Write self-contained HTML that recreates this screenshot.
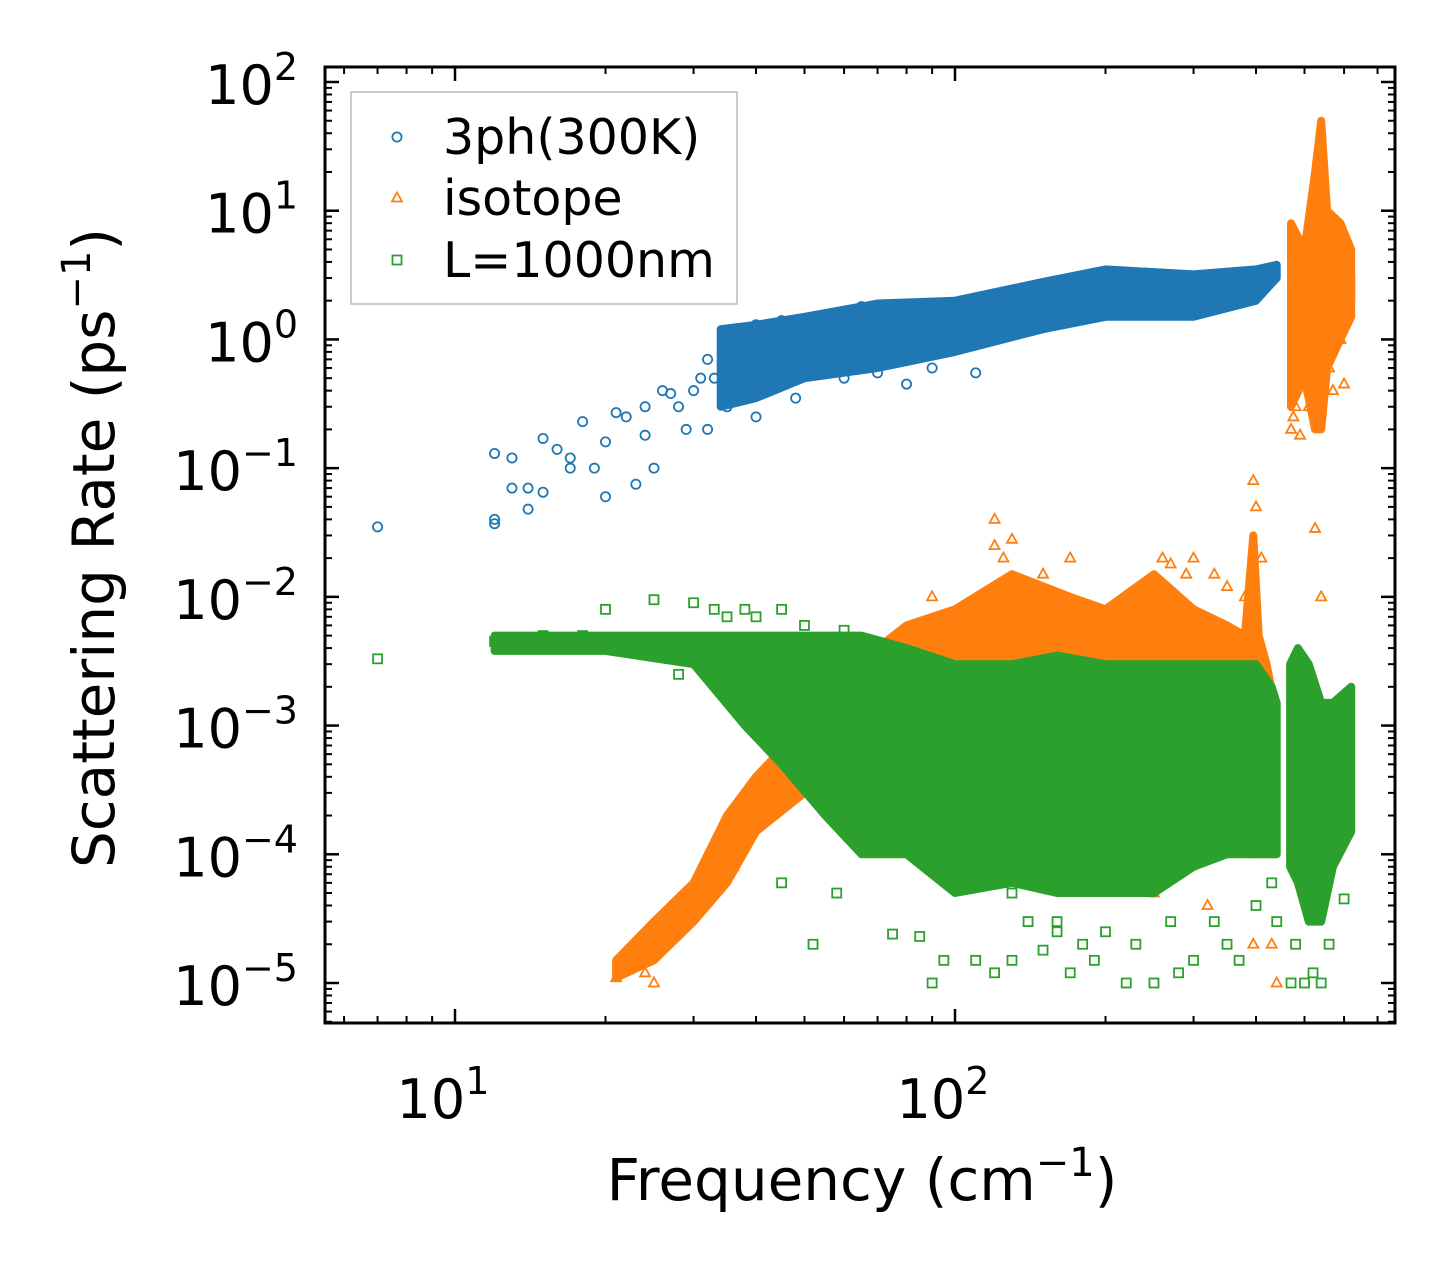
<!DOCTYPE html>
<html><head><meta charset="utf-8"><style>
html,body{margin:0;padding:0;background:#fff;}
svg text{font-family:"DejaVu Sans","Liberation Sans",sans-serif;fill:#000;}
</style></head><body>
<svg id="chart" width="1455" height="1273" xmlns="http://www.w3.org/2000/svg"></svg>
<script>
// ---- data (frequency cm^-1, rate ps^-1) ----
const blueFreq = [7,12,12,12,13,13,14,14,15,15,16,17,17,18,19,20,20,21,22,23,24,24,25,26,27,28,29,30,31,32,32,33,35,35,36,38,40,40,42,45,48,55,60,70,80,90,110,45,50,65,75,120];
const blueRate = [0.035,0.13,0.04,0.037,0.12,0.07,0.07,0.048,0.065,0.17,0.14,0.12,0.1,0.23,0.1,0.06,0.16,0.27,0.25,0.075,0.3,0.18,0.1,0.4,0.38,0.3,0.2,0.4,0.5,0.7,0.2,0.5,0.8,0.3,0.45,1.1,1.3,0.25,0.5,0.9,0.35,0.6,0.5,0.55,0.45,0.6,0.55,1.4,1.2,1.8,1.7,1.9];
const blueBandFreq = [34,40,50,70,100,150,200,300,400,440];
const blueBandLo = [0.3,0.35,0.5,0.6,0.8,1.2,1.5,1.5,2.0,3.0];
const blueBandHi = [1.2,1.3,1.5,1.9,2.0,2.8,3.5,3.2,3.5,3.8];
const blueBand2Freq = [470,510,560,620];
const blueBand2Lo = [1.5,1.5,1.8,2.0];
const blueBand2Hi = [4.0,4.0,3.5,3.0];

const orangeFreq = [21,24,25,34,36,120,120,125,130,150,170,260,270,290,300,330,350,380,395,400,410,430,440,470,475,480,490,510,560,570,600,590,525,395,320,250,90,540];
const orangeRate = [1.1e-5,1.2e-5,1.0e-5,6e-5,8e-5,0.04,0.025,0.02,0.028,0.015,0.02,0.02,0.018,0.015,0.02,0.015,0.012,0.01,0.08,0.05,0.02,2e-5,1e-5,0.2,0.25,0.3,0.18,0.3,0.6,0.4,0.45,1.0,0.034,2e-5,4e-5,5e-5,0.01,0.01];
const orangeBandFreq = [21,25,30,35,40,50,60,70,80,100,130,170,200,250,300,350,380,395,405,420,435];
const orangeBandLo = [1.1e-5,1.5e-5,3e-5,6e-5,1.5e-4,3e-4,5e-4,1e-3,2e-3,2e-3,2e-3,2e-3,2e-3,2e-3,1e-3,8e-4,5e-4,1e-4,1e-4,1e-4,1e-4];
const orangeBandHi = [1.5e-5,3e-5,6e-5,2e-4,4e-4,1e-3,2e-3,4e-3,6e-3,8e-3,1.5e-2,1e-2,8e-3,1.5e-2,8e-3,6e-3,5e-3,3e-2,5e-3,3e-3,1.5e-3];
const orangeBand2Freq = [470,500,525,540,555,590,620];
const orangeBand2Lo = [0.3,0.5,0.2,0.2,0.6,1.0,1.5];
const orangeBand2Hi = [8,5,20,50,10,8,5];

const greenFreq = [7,12,15,18,20,25,28,30,33,35,38,40,45,48,50,55,60,75,85,90,95,110,120,130,140,150,160,170,180,190,200,220,250,280,300,330,350,370,400,430,440,470,480,500,520,540,560,600,100,130,160,230,270,58,52,45];
const greenRate = [0.0033,0.0045,0.005,0.005,0.008,0.0095,0.0025,0.009,0.008,0.007,0.008,0.007,0.008,0.0025,0.006,0.0045,0.0055,2.4e-5,2.3e-5,1e-5,1.5e-5,1.5e-5,1.2e-5,1.5e-5,3e-5,1.8e-5,2.5e-5,1.2e-5,2e-5,1.5e-5,2.5e-5,1e-5,1e-5,1.2e-5,1.5e-5,3e-5,2e-5,1.5e-5,4e-5,6e-5,3e-5,1e-5,2e-5,1e-5,1.2e-5,1e-5,2e-5,4.5e-5,6e-5,5e-5,3e-5,2e-5,3e-5,5e-5,2e-5,6e-5];
const greenBandFreq = [12,20,30,38,45,55,65,80,100,130,160,200,250,300,350,400,430,440];
const greenBandLo = [3.8e-3,3.8e-3,3e-3,1e-3,5e-4,2e-4,1e-4,1e-4,5e-5,6e-5,5e-5,5e-5,5e-5,8e-5,1e-4,1e-4,1e-4,1e-4];
const greenBandHi = [5e-3,5e-3,5e-3,5e-3,5e-3,5e-3,5e-3,4e-3,3e-3,3e-3,3.5e-3,3e-3,3e-3,3e-3,3e-3,3e-3,2e-3,1.5e-3];
const greenBand2Freq = [468,485,510,540,570,620];
const greenBand2Lo = [8e-5,6e-5,3e-5,3e-5,8e-5,1.5e-4];
const greenBand2Hi = [3e-3,4e-3,3e-3,1.5e-3,1.5e-3,2e-3];

const xTickVals = [10,100];
const xTickLabels = ['1','2'];
const yTickExp = [2,1,0,-1,-2,-3,-4,-5];

// ---- axes ----
const L=325,R=1395,T=67,B=1023;
const xDecPx=500, x10=455;
function xs(v){return x10+(Math.log10(v)-1)*xDecPx;}
const yDecPx=(983-82)/7;
function ys(v){return 82+(2-Math.log10(v))*yDecPx;}

const svg=document.getElementById('chart');
const NS='http://www.w3.org/2000/svg';
function mk(tag,attrs,parent){const e=document.createElementNS(NS,tag);for(const k in attrs)e.setAttribute(k,attrs[k]);(parent||svg).appendChild(e);return e;}

const clip=mk('clipPath',{id:'pc'});mk('rect',{x:L,y:T,width:R-L,height:B-T},clip);
const plot=mk('g',{'clip-path':'url(#pc)'});



const C={blue:'#1f77b4',orange:'#ff7f0e',green:'#2ca02c'};

function band(fr,lo,hi,color,name){
  let d='';
  fr.forEach((f,i)=>{d+=(i?'L':'M')+xs(f).toFixed(1)+','+ys(hi[i]).toFixed(1);});
  for(let i=fr.length-1;i>=0;i--)d+='L'+xs(fr[i]).toFixed(1)+','+ys(lo[i]).toFixed(1);
  const p=mk('path',{d:d+'Z',fill:color,stroke:color,'stroke-width':8,'stroke-linejoin':'round'},plot);
  
  
}
function marker(type,x,y,color,parent,name){
  let e;
  if(type==='o')e=mk('circle',{cx:x,cy:y,r:4.6,fill:'none',stroke:color,'stroke-width':1.8},parent);
  else if(type==='^')e=mk('path',{d:`M${x},${y-5.5}L${x+5},${y+3.5}L${x-5},${y+3.5}Z`,fill:'none',stroke:color,'stroke-width':1.8},parent);
  else e=mk('rect',{x:x-4.5,y:y-4.5,width:9,height:9,fill:'none',stroke:color,'stroke-width':1.8},parent);
  
  
  return e;
}
function series(fr,rt,type,color,name){
  fr.forEach((f,i)=>marker(type,xs(f),ys(rt[i]),color,plot,name));
}
band(blueBandFreq,blueBandLo,blueBandHi,C.blue,'blue-band');
band(blueBand2Freq,blueBand2Lo,blueBand2Hi,C.blue,'blue-band-high');
series(blueFreq,blueRate,'o',C.blue,'point-3ph');
band(orangeBandFreq,orangeBandLo,orangeBandHi,C.orange,'orange-band');
band(orangeBand2Freq,orangeBand2Lo,orangeBand2Hi,C.orange,'orange-band-high');
series(orangeFreq,orangeRate,'^',C.orange,'point-isotope');
band(greenBandFreq,greenBandLo,greenBandHi,C.green,'green-band');
band(greenBand2Freq,greenBand2Lo,greenBand2Hi,C.green,'green-band-high');
series(greenFreq,greenRate,'s',C.green,'point-boundary');

// frame
const fr=mk('rect',{x:L,y:T,width:R-L,height:B-T,fill:'none',stroke:'#000','stroke-width':3});



// ticks
const tg=mk('g',{stroke:'#000'});


for(let dec=0;dec<3;dec++){
  for(let m=1;m<10;m++){
    const v=m*Math.pow(10,dec);const x=xs(v);
    if(x<L+1||x>R-1)continue;
    const len=m===1?14:7, w=m===1?2.5:2;
    mk('line',{x1:x,x2:x,y1:B,y2:B-len,'stroke-width':w},tg);
    mk('line',{x1:x,x2:x,y1:T,y2:T+len,'stroke-width':w},tg);
  }
}
for(let e=-6;e<3;e++){
  for(let m=1;m<10;m++){
    const v=m*Math.pow(10,e);const y=ys(v);
    if(y<T+1||y>B-1)continue;
    const len=m===1?14:7, w=m===1?2.5:2;
    mk('line',{x1:L,x2:L+len,y1:y,y2:y,'stroke-width':w},tg);
    mk('line',{x1:R,x2:R-len,y1:y,y2:y,'stroke-width':w},tg);
  }
}
// tick labels
xTickVals.forEach((v,i)=>{
  const t=mk('text',{x:xs(v)-12,y:1118,'font-size':54,'text-anchor':'middle'});
  t.innerHTML='10<tspan dy="-24" font-size="38">'+xTickLabels[i]+'</tspan>';
  
  
});
yTickExp.forEach(e=>{
  const t=mk('text',{x:298,y:ys(Math.pow(10,e))+22,'font-size':54,'text-anchor':'end'});
  t.innerHTML='10<tspan dy="-24" font-size="38">'+(e<0?'\u2212'+(-e):e)+'</tspan>';
  
  
});
// axis titles
const xt=mk('text',{x:862,y:1200,'font-size':58,'text-anchor':'middle'});
xt.innerHTML='Frequency (cm<tspan dy="-24" font-size="40">\u22121</tspan><tspan dy="24">)</tspan>';


const yt=mk('text',{x:0,y:0,'font-size':58,'text-anchor':'middle',transform:'translate(114,548) rotate(-90)'});
yt.innerHTML='Scattering Rate (ps<tspan dy="-24" font-size="40">\u22121</tspan><tspan dy="24">)</tspan>';



// legend
const lg=mk('g',{});


mk('rect',{x:351,y:92,width:386,height:212,fill:'#fff','fill-opacity':0.8,stroke:'#bbb','stroke-width':1.5},lg);
const legItems=[['3ph(300K)','o',C.blue,137],['isotope','^',C.orange,198],['L=1000nm','s',C.green,260]];
legItems.forEach(it=>{
  marker(it[1],397,it[3],it[2],lg,'legend-marker');
  const t=mk('text',{x:443,y:it[3]+17,'font-size':49},lg);
  t.textContent=it[0];
  
  
});
</script>
</body></html>
